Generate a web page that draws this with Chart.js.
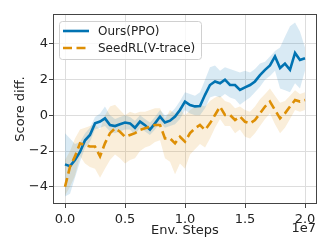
<!DOCTYPE html>
<html><head><meta charset="utf-8">
<script src="https://cdn.jsdelivr.net/npm/chart.js@4.4.0/dist/chart.umd.min.js"></script>
<style>html,body{margin:0;padding:0;background:#fff}#wrap{width:332px;height:252px}</style>
</head><body><div id="wrap"><canvas id="c" width="332" height="252"></canvas></div>
<script>
const STEPS = [0, 0.042, 0.083, 0.125, 0.167, 0.208, 0.25, 0.292, 0.333, 0.375, 0.417, 0.458, 0.5, 0.542, 0.583, 0.625, 0.667, 0.708, 0.75, 0.792, 0.833, 0.875, 0.917, 0.958, 1.0, 1.042, 1.083, 1.125, 1.167, 1.208, 1.25, 1.292, 1.333, 1.375, 1.417, 1.458, 1.5, 1.542, 1.583, 1.625, 1.667, 1.708, 1.75, 1.792, 1.833, 1.875, 1.917, 1.958, 2.0];
const PPO = [-2.75, -2.85, -2.5, -2.05, -1.4, -1.1, -0.45, -0.35, -0.17, -0.55, -0.6, -0.5, -0.4, -0.45, -0.7, -0.35, -0.55, -0.8, -0.45, -0.07, -0.4, -0.3, -0.07, 0.3, 0.77, 0.58, 0.5, 0.52, 1.15, 1.7, 1.9, 1.8, 2.0, 1.7, 1.7, 1.42, 1.57, 1.7, 1.9, 2.25, 2.55, 2.8, 3.3, 2.65, 2.9, 2.55, 3.5, 3.1, 3.2];
const PPO_HI = [-1.0, -1.3, -1.6, -1.5, -1.0, -0.7, -0.1, 0.1, 0.5, 0.0, -0.2, -0.1, 0.0, -0.1, -0.3, 0.0, -0.2, -0.4, -0.1, 0.3, 0.0, 0.1, 0.4, 0.8, 1.3, 1.2, 1.1, 1.3, 2.0, 2.7, 2.8, 2.5, 2.7, 2.6, 2.5, 2.4, 2.5, 2.4, 2.6, 2.9, 3.0, 3.3, 3.6, 3.8, 4.4, 5.0, 5.2, 4.7, 3.8];
const PPO_LO = [-4.55, -4.4, -3.5, -2.6, -1.8, -1.5, -0.8, -0.7, -0.6, -0.9, -1.0, -0.9, -0.8, -0.8, -1.1, -0.7, -0.9, -1.1, -0.8, -0.4, -0.7, -0.6, -0.5, -0.2, 0.3, 0.1, 0.0, 0.0, 0.4, 1.0, 1.1, 1.0, 1.2, 1.0, 0.9, 0.6, 0.8, 1.0, 1.3, 1.6, 2.0, 2.2, 2.5, 1.5, 1.4, 1.3, 1.8, 1.5, 2.5];
const VTR = [-4.0, -2.88, -2.3, -1.57, -1.66, -1.75, -1.75, -2.3, -1.57, -1.0, -0.73, -0.92, -1.2, -1.1, -1.0, -0.82, -0.73, -0.64, -0.54, -0.54, -1.29, -1.29, -1.57, -1.2, -1.48, -1.0, -0.73, -0.54, -0.82, -0.45, 0.02, 0.49, 0.02, 0.02, -0.26, -0.07, -0.36, -0.45, -0.26, 0.11, 0.49, 0.77, 0.3, -0.17, 0.11, 0.49, 0.86, 0.77, 0.86];
const VTR_HI = [-2.5, -2.0, -1.3, -0.8, -0.7, -0.6, -0.5, -0.8, 0.0, 0.5, 0.6, 0.3, 0.0, 0.2, 0.1, 0.2, 0.2, 0.3, 0.4, 0.4, -0.2, 0.3, 0.1, 0.4, 0.0, 0.3, 0.5, 0.6, 0.5, 0.8, 1.0, 1.1, 0.8, 0.7, 0.4, 0.5, 0.3, 0.2, 0.5, 0.9, 1.2, 1.5, 1.1, 0.7, 0.8, 1.1, 1.4, 1.2, 1.3];
const VTR_LO = [-4.5, -4.0, -3.4, -2.3, -2.7, -2.9, -3.0, -3.5, -3.0, -2.5, -2.2, -2.4, -2.7, -2.5, -2.4, -2.0, -1.8, -1.7, -1.5, -1.4, -2.4, -2.6, -3.3, -2.7, -3.0, -2.2, -1.9, -1.6, -1.8, -1.3, -0.7, -0.2, -0.6, -0.6, -1.0, -0.8, -1.2, -1.3, -1.0, -0.6, -0.2, 0.1, -0.5, -1.0, -0.7, -0.2, 0.3, 0.2, 0.3];
const X_TICKS = [0, 0.5, 1.0, 1.5, 2.0];
const Y_TICKS = [-4, -2, 0, 2, 4];
const LABELS = ['Ours(PPO)', 'SeedRL(V-trace)'];

const BLUE = '#0173b2', ORANGE = '#de8f05';
const FONT = "'DejaVu Sans', sans-serif";
const DASH = [9, 4.5];
const pts = arr => arr.map((v, i) => ({x: STEPS[i], y: v}));
const band = (arr, fill, col) => ({data: pts(arr), borderWidth: 0, pointRadius: 0, fill: fill, backgroundColor: col, order: 3, tension: 0});

const frameLegend = {
  id: 'frameLegend',
  afterDraw(chart) {
    const ctx = chart.ctx, a = chart.chartArea;
    ctx.save();
    ctx.strokeStyle = '#444'; ctx.lineWidth = 1;
    ctx.strokeRect(a.left + 0.5, a.top + 0.5, a.right - a.left - 1, a.bottom - a.top - 1);
    const x0 = 59.5, y0 = 21.5, w = 142, h = 38, r = 3;
    ctx.beginPath();
    ctx.moveTo(x0 + r, y0); ctx.lineTo(x0 + w - r, y0); ctx.arcTo(x0 + w, y0, x0 + w, y0 + r, r);
    ctx.lineTo(x0 + w, y0 + h - r); ctx.arcTo(x0 + w, y0 + h, x0 + w - r, y0 + h, r);
    ctx.lineTo(x0 + r, y0 + h); ctx.arcTo(x0, y0 + h, x0, y0 + h - r, r);
    ctx.lineTo(x0, y0 + r); ctx.arcTo(x0, y0, x0 + r, y0, r); ctx.closePath();
    ctx.fillStyle = 'rgba(255,255,255,0.8)'; ctx.fill();
    ctx.strokeStyle = '#d0d0d0'; ctx.stroke();
    const rows = [{y: 31, c: BLUE, d: []}, {y: 48, c: ORANGE, d: DASH}];
    rows.forEach((rw, i) => {
      ctx.beginPath(); ctx.setLineDash(rw.d); ctx.strokeStyle = rw.c; ctx.lineWidth = 2.6;
      ctx.moveTo(63, rw.y); ctx.lineTo(89, rw.y); ctx.stroke();
      ctx.setLineDash([]);
      ctx.fillStyle = '#222'; ctx.font = '12px ' + FONT; ctx.textBaseline = 'middle'; ctx.textAlign = 'left';
      ctx.fillText(LABELS[i], 98, rw.y + 0.5);
    });
    ctx.font = '13px ' + FONT; ctx.textAlign = 'right'; ctx.textBaseline = 'middle';
    ctx.fillText('1e7', 316, 229);
    ctx.restore();
  }
};

new Chart(document.getElementById('c'), {
  type: 'line',
  data: {datasets: [
    band(PPO_HI, '+1', 'rgba(1,115,178,0.15)'),
    band(PPO_LO, false, 'rgba(1,115,178,0.15)'),
    band(VTR_HI, '+1', 'rgba(222,143,5,0.15)'),
    band(VTR_LO, false, 'rgba(222,143,5,0.15)'),
    {label: LABELS[0], data: pts(PPO), borderColor: BLUE, borderWidth: 2.6, pointRadius: 0, fill: false, order: 2, tension: 0},
    {label: LABELS[1], data: pts(VTR), borderColor: ORANGE, borderWidth: 2.6, borderDash: DASH, pointRadius: 0, fill: false, order: 1, tension: 0}
  ]},
  options: {
    responsive: false, animation: false, devicePixelRatio: 1,
    layout: {padding: {left: 13, right: 15, top: 14, bottom: 14}},
    plugins: {legend: {display: false}, tooltip: {enabled: false}},
    scales: {
      x: {type: 'linear', min: -0.1, max: 2.1,
        afterBuildTicks: s => { s.ticks = X_TICKS.map(v => ({value: v})); },
        afterFit: s => { s.height = 34; },
        grid: {color: '#dddddd', lineWidth: 1, tickLength: 4, tickColor: '#444', drawTicks: true},
        border: {display: false},
        ticks: {font: {family: FONT, size: 13}, color: '#222', padding: 4, maxRotation: 0, callback: v => Number(v).toFixed(1)},
        title: {display: true, text: 'Env. Steps', font: {family: FONT, size: 13}, color: '#222', padding: {top: 0, bottom: 0}}
      },
      y: {type: 'linear', min: -4.97, max: 5.68,
        afterBuildTicks: s => { s.ticks = Y_TICKS.map(v => ({value: v})); },
        afterFit: s => { s.width = 40; },
        grid: {color: '#dddddd', lineWidth: 1, tickLength: 4, tickColor: '#444'},
        border: {display: false},
        ticks: {font: {family: FONT, size: 13}, color: '#222', padding: 1, callback: v => v < 0 ? '\u2212' + Math.abs(v) : String(v)},
        title: {display: true, text: 'Score diff.', font: {family: FONT, size: 13}, color: '#222', padding: {top: 0, bottom: 0}}
      }
    }
  },
  plugins: [frameLegend]
});
</script></body></html>
